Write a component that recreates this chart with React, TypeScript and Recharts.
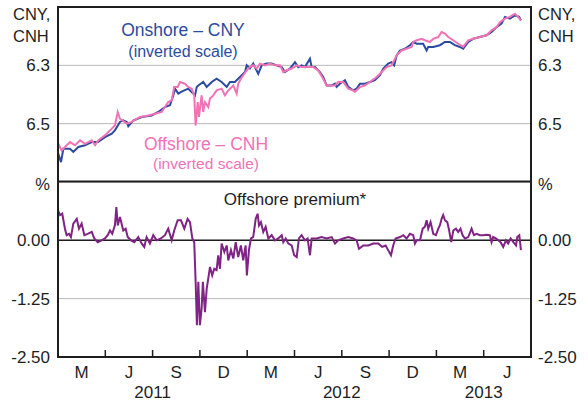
import React from "react";
import {
  LineChart,
  Line,
  XAxis,
  YAxis,
  CartesianGrid,
  ReferenceLine,
} from "recharts";

// time axis: months since 1 Jan 2011 (0 = Jan 2011, 30 = Jul 2013)

const onshoreCny: [number, number][] = [
  [0.02, 6.603], [0.19, 6.632], [0.34, 6.586], [0.76, 6.586], [0.97, 6.597],
  [1.29, 6.58], [1.71, 6.574], [2.14, 6.563], [2.54, 6.563], [2.98, 6.546],
  [3.41, 6.534], [3.61, 6.523], [3.93, 6.494], [4.14, 6.489], [4.36, 6.494],
  [4.46, 6.509], [4.77, 6.489], [5.31, 6.477], [5.94, 6.472], [6.36, 6.46],
  [6.78, 6.443], [7.1, 6.437], [7.31, 6.403], [7.42, 6.38], [7.63, 6.397],
  [7.84, 6.39], [8.26, 6.38], [8.58, 6.397], [8.69, 6.403], [8.8, 6.374],
  [8.9, 6.369], [9.21, 6.357], [9.43, 6.374], [9.75, 6.357], [10.06, 6.346],
  [10.38, 6.357], [10.7, 6.374], [10.91, 6.357], [11.22, 6.357], [11.54, 6.34],
  [11.86, 6.323], [11.97, 6.3], [12.17, 6.311], [12.38, 6.294], [12.7, 6.329],
  [12.92, 6.3], [13.23, 6.294], [13.55, 6.294], [13.87, 6.3], [14.19, 6.306],
  [14.39, 6.323], [14.71, 6.311], [15.03, 6.289], [15.24, 6.306], [15.45, 6.3],
  [15.66, 6.306], [15.98, 6.277], [16.09, 6.306], [16.3, 6.306], [16.61, 6.323],
  [16.82, 6.34], [17.04, 6.369], [17.36, 6.369], [17.57, 6.363], [17.67, 6.374],
  [17.88, 6.363], [18.2, 6.351], [18.41, 6.374], [18.72, 6.386], [18.94, 6.38],
  [19.15, 6.363], [19.47, 6.363], [19.78, 6.357], [20.1, 6.351], [20.42, 6.334],
  [20.63, 6.311], [20.94, 6.294], [21.16, 6.289], [21.32, 6.3], [21.48, 6.266],
  [21.69, 6.249], [22.0, 6.243], [22.32, 6.231], [22.53, 6.22], [22.75, 6.226],
  [23.16, 6.226], [23.38, 6.249], [23.48, 6.237], [23.8, 6.237], [24.22, 6.231],
  [24.54, 6.22], [24.86, 6.22], [25.17, 6.231], [25.49, 6.237], [25.7, 6.243],
  [26.02, 6.22], [26.33, 6.209], [26.76, 6.203], [27.18, 6.197], [27.5, 6.186],
  [27.82, 6.169], [28.13, 6.157], [28.35, 6.134], [28.66, 6.14], [28.98, 6.129],
  [29.25, 6.134], [29.36, 6.146],
];

const offshoreCnh: [number, number][] = [
  [0.02, 6.569], [0.23, 6.592], [0.44, 6.58], [0.76, 6.563], [1.08, 6.574],
  [1.4, 6.557], [1.71, 6.569], [2.14, 6.557], [2.35, 6.574], [2.56, 6.557],
  [2.98, 6.54], [3.3, 6.523], [3.61, 6.506], [3.79, 6.46], [3.93, 6.483],
  [4.36, 6.5], [4.67, 6.494], [5.2, 6.477], [5.73, 6.472], [6.15, 6.466],
  [6.58, 6.46], [6.78, 6.443], [6.99, 6.426], [7.21, 6.42], [7.37, 6.374],
  [7.59, 6.374], [7.74, 6.357], [8.05, 6.363], [8.26, 6.374], [8.48, 6.38],
  [8.64, 6.403], [8.73, 6.506], [8.86, 6.426], [8.94, 6.477], [9.11, 6.403],
  [9.21, 6.46], [9.32, 6.426], [9.53, 6.443], [9.64, 6.414], [9.85, 6.403],
  [10.06, 6.386], [10.38, 6.38], [10.59, 6.403], [10.8, 6.386], [11.12, 6.369],
  [11.33, 6.397], [11.43, 6.363], [11.6, 6.346], [11.75, 6.334], [11.97, 6.317],
  [12.17, 6.306], [12.38, 6.3], [12.6, 6.311], [12.81, 6.294], [13.13, 6.3],
  [13.44, 6.294], [13.76, 6.3], [14.08, 6.3], [14.29, 6.323], [14.5, 6.317],
  [14.82, 6.311], [15.14, 6.3], [15.45, 6.306], [15.87, 6.306], [16.19, 6.306],
  [16.5, 6.317], [16.82, 6.346], [17.04, 6.369], [17.25, 6.369], [17.57, 6.369],
  [17.77, 6.357], [18.09, 6.357], [18.41, 6.38], [18.72, 6.386], [18.83, 6.391],
  [19.15, 6.374], [19.47, 6.369], [19.78, 6.357], [20.21, 6.34], [20.53, 6.323],
  [20.84, 6.306], [21.16, 6.3], [21.48, 6.266], [21.79, 6.249], [22.11, 6.243],
  [22.43, 6.237], [22.53, 6.22], [22.75, 6.214], [23.06, 6.209], [23.27, 6.214],
  [23.59, 6.22], [23.8, 6.209], [24.11, 6.203], [24.33, 6.186], [24.54, 6.191],
  [24.75, 6.203], [25.07, 6.214], [25.38, 6.226], [25.7, 6.237], [26.02, 6.214],
  [26.33, 6.209], [26.76, 6.203], [27.18, 6.197], [27.5, 6.18], [27.82, 6.169],
  [28.03, 6.152], [28.35, 6.14], [28.66, 6.134], [28.98, 6.123], [29.19, 6.134],
  [29.36, 6.146],
];

const offshorePremium: [number, number][] = [
  [0.0, 0.64], [0.13, 0.54], [0.27, 0.57], [0.44, 0.25], [0.55, 0.11],
  [0.7, 0.14], [0.82, 0.07], [0.97, 0.36], [1.19, 0.46], [1.33, 0.25],
  [1.5, 0.36], [1.67, 0.11], [1.88, 0.14], [2.14, 0.18], [2.3, 0.04],
  [2.52, -0.04], [2.77, 0.0], [2.98, 0.04], [3.15, 0.11], [3.3, 0.21],
  [3.44, 0.14], [3.61, 0.32], [3.7, 0.71], [3.79, 0.32], [3.93, 0.5],
  [4.14, 0.21], [4.29, 0.25], [4.42, 0.07], [4.63, 0.0], [4.84, -0.04],
  [5.09, 0.07], [5.31, -0.07], [5.47, -0.14], [5.62, 0.07], [5.83, -0.07],
  [6.04, 0.11], [6.26, 0.0], [6.53, 0.04], [6.78, 0.11], [6.99, 0.25],
  [7.21, 0.0], [7.37, 0.21], [7.59, 0.43], [7.8, 0.43], [8.01, 0.25],
  [8.22, 0.46], [8.37, 0.39], [8.52, 0.04], [8.64, -0.04], [8.73, -0.89],
  [8.81, -1.82], [8.9, -0.89], [9.0, -1.82], [9.11, -1.46], [9.19, -0.89],
  [9.32, -1.54], [9.43, -1.04], [9.53, -0.82], [9.64, -0.57], [9.78, -0.75],
  [9.91, -0.61], [10.06, -0.64], [10.16, -0.32], [10.27, -0.61], [10.38, -0.07],
  [10.55, -0.25], [10.7, -0.11], [10.8, -0.43], [10.97, -0.21], [11.12, -0.39],
  [11.27, -0.04], [11.43, -0.36], [11.6, -0.11], [11.75, -0.43], [11.9, -0.11],
  [11.98, -0.75], [12.11, -0.21], [12.24, 0.04], [12.38, 0.07], [12.54, 0.46],
  [12.66, 0.57], [12.75, 0.32], [12.87, 0.39], [13.02, 0.18], [13.17, 0.29],
  [13.34, 0.04], [13.55, 0.11], [13.76, 0.0], [13.97, 0.04], [14.19, 0.11],
  [14.29, -0.04], [14.44, 0.04], [14.61, -0.07], [14.82, -0.11], [14.98, -0.32],
  [15.14, -0.36], [15.28, 0.04], [15.45, 0.11], [15.66, 0.0], [15.83, 0.04],
  [15.98, -0.32], [16.09, 0.04], [16.4, 0.04], [16.72, 0.07], [17.04, 0.04],
  [17.36, 0.07], [17.57, -0.07], [17.77, 0.0], [18.09, 0.04], [18.41, 0.07],
  [18.72, 0.04], [18.94, 0.0], [19.09, -0.18], [19.36, -0.11], [19.68, -0.11],
  [20.0, -0.07], [20.31, -0.07], [20.56, -0.14], [20.78, -0.11], [20.94, -0.21],
  [21.12, -0.32], [21.26, -0.11], [21.41, 0.04], [21.69, 0.07], [21.9, 0.11],
  [22.11, 0.04], [22.32, 0.14], [22.53, 0.11], [22.64, -0.07], [22.75, 0.0],
  [22.96, 0.0], [23.13, 0.25], [23.27, 0.29], [23.38, 0.43], [23.48, 0.25],
  [23.63, 0.39], [23.8, 0.14], [23.97, 0.11], [24.12, 0.25], [24.22, 0.32],
  [24.33, 0.46], [24.43, 0.54], [24.54, 0.43], [24.69, 0.39], [24.81, 0.21],
  [24.94, -0.04], [25.07, 0.21], [25.24, 0.25], [25.38, 0.18], [25.53, 0.25],
  [25.66, 0.11], [25.81, 0.04], [26.02, 0.07], [26.23, 0.25], [26.38, 0.11],
  [26.55, 0.14], [26.76, 0.11], [26.97, 0.11], [27.18, 0.12], [27.39, 0.11],
  [27.5, -0.04], [27.6, 0.07], [27.77, 0.04], [27.92, 0.0], [28.07, -0.04],
  [28.24, -0.14], [28.41, 0.0], [28.55, -0.07], [28.71, 0.04], [28.88, -0.04],
  [29.05, -0.11], [29.13, 0.07], [29.26, 0.11], [29.36, -0.21],
];

const quarterLabels = ["M", "J", "S", "D"];
const quarterEdges = [3, 6, 9, 12, 15, 18, 21, 24, 27];
const quarterMids = [1.5, 4.5, 7.5, 10.5, 13.5, 16.5, 19.5, 22.5, 25.5, 28.5];
const yearLabels: [number, string][] = [[6, "2011"], [18, "2012"], [27, "2013"]];
const rateTicks = [6.3, 6.5];
const premiumTicks = [-2.5, -1.25, 0];

const FONT = '"Liberation Sans", Arial, Helvetica, sans-serif';
const INK = "#1e1e1e";
const BLUE = "#2b4ba0";
const PINK = "#f272b6";
const PURPLE = "#7f2484";
const GRID = "#b8b8b8";

const toRows = (pts: [number, number][]) => pts.map(([t, v]) => ({ t, v }));

const axisTick = { fill: INK, fontSize: 17, fontFamily: FONT };

function MonthTick(props: any) {
  const { x, y, payload } = props;
  const v = payload.value as number;
  if (v % 3 === 0) {
    const year = yearLabels.find((d) => d[0] === v);
    return (
      <g>
        <line x1={x} x2={x} y1={y} y2={y - 7} stroke={INK} strokeWidth={1.5} />
        {year && (
          <text x={x} y={y + 41} textAnchor="middle" fill={INK} fontSize={17} fontFamily={FONT}>
            {year[1]}
          </text>
        )}
      </g>
    );
  }
  const q = Math.round((v - 1.5) / 3) % 4;
  return (
    <text x={x} y={y + 20.5} textAnchor="middle" fill={INK} fontSize={17} fontFamily={FONT}>
      {quarterLabels[q]}
    </text>
  );
}

export default function App() {
  const onshore = toRows(onshoreCny);
  const offshore = toRows(offshoreCnh);
  const premium = toRows(offshorePremium);
  const monthTicks = [...quarterEdges, ...quarterMids].sort((a, b) => a - b);

  return (
    <div style={{ position: "absolute", left: 0, top: 0, width: 588, height: 402, background: "#fff" }}>
      <div style={{ position: "absolute", left: 0, top: 0 }}>
        <LineChart width={588} height={182} margin={{ top: 7, right: 0, bottom: 0, left: 0 }}>
          <CartesianGrid vertical={false} stroke={GRID} strokeWidth={1} />
          <XAxis type="number" dataKey="t" domain={[0, 30]} hide allowDataOverflow />
          <YAxis
            domain={[6.1, 6.7]}
            reversed
            ticks={rateTicks}
            width={58}
            tickLine={false}
            axisLine={false}
            tickSize={0}
            tickMargin={8}
            tick={axisTick}
            tickFormatter={(v: number) => v.toFixed(1)}
            allowDataOverflow
          />
          <YAxis
            yAxisId="r"
            orientation="right"
            domain={[6.1, 6.7]}
            reversed
            ticks={rateTicks}
            width={57}
            tickLine={false}
            axisLine={false}
            tickSize={0}
            tickMargin={7}
            tick={axisTick}
            tickFormatter={(v: number) => v.toFixed(1)}
            allowDataOverflow
          />
          <Line data={onshore} dataKey="v" stroke={BLUE} strokeWidth={2} dot={false} isAnimationActive={false} />
          <Line data={offshore} dataKey="v" stroke={PINK} strokeWidth={2} dot={false} isAnimationActive={false} />
        </LineChart>
      </div>

      <div style={{ position: "absolute", left: 0, top: 182 }}>
        <LineChart width={588} height={220} margin={{ top: 0, right: 0, bottom: 0, left: 0 }}>
          <CartesianGrid vertical={false} stroke={GRID} strokeWidth={1} />
          <XAxis
            type="number"
            dataKey="t"
            domain={[0, 30]}
            ticks={monthTicks}
            interval={0}
            height={45}
            tickLine={false}
            axisLine={false}
            tickSize={0}
            tickMargin={0}
            tick={(p: any) => <MonthTick {...p} />}
            allowDataOverflow
          />
          <YAxis
            domain={[-2.5, 1.25]}
            ticks={premiumTicks}
            width={58}
            tickLine={false}
            axisLine={false}
            tickSize={0}
            tickMargin={8}
            tick={axisTick}
            tickFormatter={(v: number) => v.toFixed(2)}
            allowDataOverflow
          />
          <YAxis
            yAxisId="r"
            orientation="right"
            domain={[-2.5, 1.25]}
            ticks={premiumTicks}
            width={57}
            tickLine={false}
            axisLine={false}
            tickSize={0}
            tickMargin={7}
            tick={axisTick}
            tickFormatter={(v: number) => v.toFixed(2)}
            allowDataOverflow
          />
          <ReferenceLine y={0} stroke={INK} strokeWidth={1.5} />
          <Line data={premium} dataKey="v" stroke={PURPLE} strokeWidth={2} dot={false} isAnimationActive={false} />
        </LineChart>
      </div>

      <svg
        width={588}
        height={402}
        style={{ position: "absolute", left: 0, top: 0, pointerEvents: "none" }}
        fontFamily={FONT}
      >
        <rect x={58} y={7} width={473} height={350} fill="none" stroke={INK} strokeWidth={2} />
        <line x1={58} x2={531} y1={181.5} y2={181.5} stroke={INK} strokeWidth={2} />

        <text x={13} y={20} fontSize={16.5} fill={INK}>CNY,</text>
        <text x={13} y={41.5} fontSize={16.5} fill={INK}>CNH</text>
        <text x={538} y={20} fontSize={16.5} fill={INK}>CNY,</text>
        <text x={538} y={41.5} fontSize={16.5} fill={INK}>CNH</text>
        <text x={50} y={190} fontSize={16.5} fill={INK} textAnchor="end">%</text>
        <text x={538} y={190} fontSize={16.5} fill={INK}>%</text>

        <text x={183} y={36} fontSize={17.5} fill={BLUE} textAnchor="middle">Onshore – CNY</text>
        <text x={183} y={57} fontSize={16} fill={BLUE} textAnchor="middle">(inverted scale)</text>
        <text x={206} y={150} fontSize={17.5} fill={PINK} textAnchor="middle">Offshore – CNH</text>
        <text x={206} y={168.5} fontSize={15.5} fill={PINK} textAnchor="middle">(inverted scale)</text>
        <text x={295} y={205} fontSize={17} fill={INK} textAnchor="middle">Offshore premium*</text>
      </svg>
    </div>
  );
}
